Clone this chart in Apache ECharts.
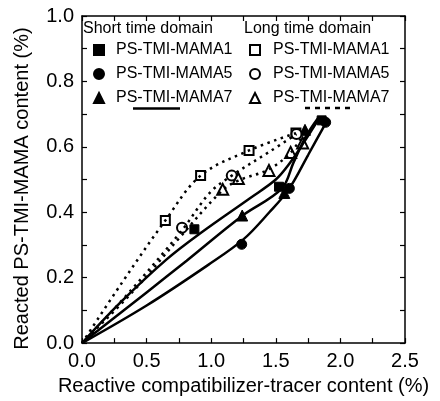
<!DOCTYPE html>
<html><head><meta charset="utf-8">
<script src="https://cdn.jsdelivr.net/npm/echarts@6/dist/echarts.min.js"></script>
<style>html,body{margin:0;padding:0;background:#fff}#c{width:440px;height:401px}</style>
</head><body><div id="c"></div>
<script>
// Legend labels
const seriesLabel = 'PS-TMI-MAMA';
const shortHeader = 'Short time domain';
const longHeader = 'Long time domain';
const xTitle = 'Reactive compatibilizer-tracer content (%)';
const yTitle = 'Reacted PS-TMI-MAMA content (%)';

// Short time domain (filled markers)
const shortMAMA1 = [[0.87,0.348],[1.525,0.478],[1.855,0.681]];
const shortMAMA5 = [[1.236,0.302],[1.605,0.473],[1.886,0.675]];
const shortMAMA7 = [[1.24,0.39],[1.566,0.459],[1.726,0.652]];
// Long time domain (open markers)
const longMAMA1 = [[0.645,0.375],[0.918,0.512],[1.293,0.589],[1.656,0.642]];
const longMAMA5 = [[0.774,0.353],[1.159,0.512],[1.66,0.639]];
const longMAMA7 = [[1.089,0.47],[1.21,0.503],[1.447,0.528],[1.615,0.583],[1.708,0.612]];

// Fitted curves
const curveShort1 = [[0,0],[0.3,0.125],[0.655,0.256],[0.913,0.335],[1.3,0.443],[1.5,0.5],[1.61,0.551],[1.72,0.615],[1.84,0.69]];
const curveShort7 = [[0,0],[0.5,0.155],[0.81,0.252],[1.236,0.388],[1.546,0.472],[1.636,0.551],[1.73,0.63],[1.83,0.69]];
const curveShort5 = [[0,0],[0.5,0.115],[0.98,0.24],[1.249,0.317],[1.45,0.4],[1.6,0.47],[1.75,0.575],[1.89,0.675]];
const curveLong1 = [[0,0],[0.31,0.185],[0.645,0.375],[0.918,0.512],[1.293,0.589],[1.656,0.642]];
const curveLong5 = [[0,0],[0.387,0.165],[0.774,0.345],[0.99,0.46],[1.159,0.512],[1.455,0.586],[1.66,0.639]];
const curveLong7 = [[0,0],[0.4,0.16],[0.75,0.32],[1.081,0.465],[1.21,0.497],[1.44,0.53],[1.61,0.58],[1.7,0.63]];

const FONT = 'Liberation Sans';
const names = {s1:seriesLabel+'1', s5:seriesLabel+'5', s7:seriesLabel+'7', l1:seriesLabel+'1', l5:seriesLabel+'5', l7:seriesLabel+'7'};

function axisCommon(show){
  return {
    axisLine:{show:true,onZero:false,lineStyle:{color:'#000',width:1.5}},
    axisTick:{show:true,inside:true,length:5,lineStyle:{color:'#000',width:1.2}},
    minorTick:{show:true,splitNumber:2,length:5,lineStyle:{color:'#000',width:1.2}},
    splitLine:{show:false},
    axisLabel:{show:show,color:'#000',fontSize:20,fontFamily:FONT,margin:8,formatter:v=>v.toFixed(1)}
  };
}
function scatter(name,data,symbol,size){
  return {name,type:'scatter',data,symbol,symbolSize:size,itemStyle:{color:'#000',borderColor:'#000',borderWidth:1,opacity:1},z:2};
}
function curve(data,dotted){
  return {type:'line',data,smooth:0.35,symbol:'none',silent:true,z:3,
    lineStyle:{color:'#000',width:2.5,type:dotted?[2.5,4.5]:'solid'}};
}
const chart = echarts.init(document.getElementById('c'),null,{renderer:'canvas'});
chart.setOption({
  animation:false,
  grid:{left:82,right:35,top:16,bottom:57},
  xAxis:[
    Object.assign({type:'value',min:0,max:2.5,interval:0.5,position:'bottom',name:xTitle,nameLocation:'middle',nameGap:25,
      nameTextStyle:{color:'#000',fontSize:20,fontFamily:FONT}},axisCommon(true)),
    Object.assign({type:'value',min:0,max:2.5,interval:0.5,position:'top'},axisCommon(false))
  ],
  yAxis:[
    Object.assign({type:'value',min:0,max:1,interval:0.2,position:'left',name:yTitle,nameLocation:'middle',nameGap:50,
      nameTextStyle:{color:'#000',fontSize:20,fontFamily:FONT,padding:[0,18,0,0]}},axisCommon(true)),
    Object.assign({type:'value',min:0,max:1,interval:0.2,position:'right'},axisCommon(false))
  ],
  legend:[
    {data:['s1','s5','s7'],orient:'vertical',left:93,top:42,padding:0,itemGap:8,itemWidth:10,itemHeight:10,
      formatter:n=>names[n],textStyle:{color:'#000',fontSize:16,fontFamily:FONT,lineHeight:16,padding:[0,0,0,7]},selectedMode:false},
    {data:['l1','l5','l7'],orient:'vertical',left:249,top:42,padding:0,itemGap:8,itemWidth:10,itemHeight:10,
      formatter:n=>names[n],textStyle:{color:'#000',fontSize:16,fontFamily:FONT,lineHeight:16,padding:[0,0,0,8]},selectedMode:false}
  ],
  graphic:[
    {type:'text',left:83,top:21,style:{text:shortHeader,fontSize:16,fontFamily:FONT,fill:'#000'}},
    {type:'text',left:244,top:21,style:{text:longHeader,fontSize:16,fontFamily:FONT,fill:'#000'}},
    {type:'line',shape:{x1:133,y1:108.5,x2:180,y2:108.5},style:{stroke:'#000',lineWidth:2.5}},
    {type:'line',shape:{x1:305,y1:108,x2:350,y2:108},style:{stroke:'#000',lineWidth:2.5,lineDash:[5,5]}}
  ],
  series:[
    scatter('s1',shortMAMA1,'rect',9),
    scatter('s5',shortMAMA5,'circle',10),
    scatter('s7',shortMAMA7,'triangle',11),
    scatter('l1',longMAMA1,'emptyRect',9),
    scatter('l5',longMAMA5,'emptyCircle',10),
    scatter('l7',longMAMA7,'emptyTriangle',11),
    curve(curveShort1,false),curve(curveShort7,false),curve(curveShort5,false),
    curve(curveLong1,true),curve(curveLong5,true),curve(curveLong7,true)
  ]
});
</script></body></html>
